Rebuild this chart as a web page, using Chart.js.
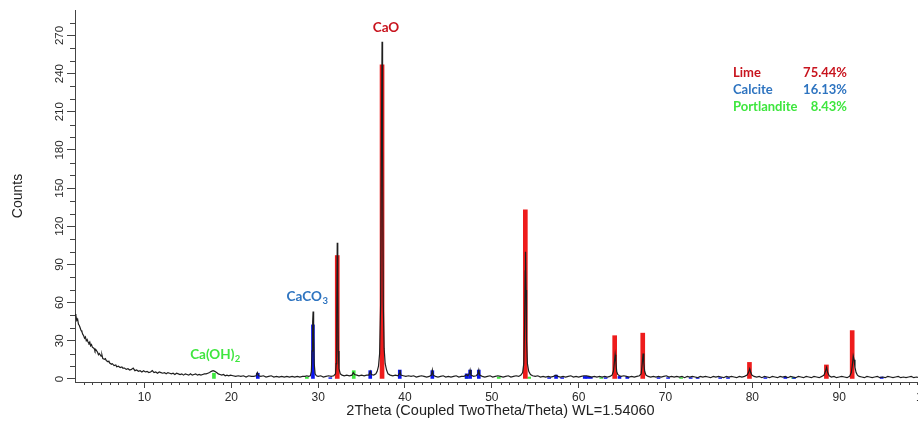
<!DOCTYPE html>
<html>
<head>
<meta charset="utf-8">
<script src="https://cdn.jsdelivr.net/npm/chart.js@4.4.1/dist/chart.umd.min.js"></script>
<style>
  html, body { margin: 0; padding: 0; background: #ffffff; overflow: hidden; width: 918px; height: 427px; }
  #wrap { position: absolute; left: 0; top: 0; width: 950px; height: 427px; }
</style>
</head>
<body>
<div id="wrap"><canvas id="c" width="950" height="427"></canvas></div>
<script>
// ---- Measured pattern: [2theta, counts] ----
const pattern = [
[2.0,51],[2.1,50],[2.2,46],[2.3,47],[2.4,43],[2.5,42],[2.6,40],[2.7,38],[2.8,37],[2.9,35],[3.0,34],[3.1,32],[3.2,33],[3.3,30],[3.4,31],[3.5,29],[3.6,28],[3.7,29],[3.8,26],[3.9,27],[4.0,25],[4.2,24],[4.3,22],[4.4,23],[4.6,21],[4.7,19],[4.8,20],[5.0,18],[5.1,19],[5.2,16],[5.4,15.5],[5.5,16],[5.6,14.5],[5.8,13.5],[5.9,14],[6.0,12.5],[6.2,11.5],[6.3,12],[6.5,10.5],[6.7,11],[6.8,9.5],[7.0,10],[7.2,9],[7.4,9.5],[7.5,8.5],[7.7,8.5],[7.9,7.5],[8.1,8],[8.3,7],[8.5,7.5],[8.7,8.5],[8.9,6.5],[9.1,7],[9.3,6],[9.5,6.5],[9.7,5.5],[9.9,6.5],
[10.1,5.5],[10.3,6],[10.5,5],[10.7,5.5],[10.9,6.5],[11.1,5],[11.3,5.5],[11.5,4.5],[11.7,5.5],[11.9,5],[12.1,4.5],[12.3,5],[12.5,4],[12.7,5],[12.9,4.5],[13.1,4],[13.3,4.5],[13.5,3.5],[13.7,4.5],[13.9,4],[14.1,3.5],[14.3,4],[14.5,3],[14.7,4],[14.9,3.5],[15.1,3],[15.3,4],[15.5,3],[15.7,3.5],[15.9,4],[16.1,3],[16.3,3.5],[16.5,3],[16.7,3.5],[16.9,4],[17.1,4],[17.3,4.5],[17.5,5],[17.7,6],[17.9,6.5],[18.1,6],[18.3,5],[18.5,4],[18.7,3.5],[18.9,3],[19.1,3.5],[19.3,2.5],[19.5,3],[19.7,2.5],[19.9,3],
[20.2,2.5],[20.5,2],[20.8,2.5],[21.1,2],[21.4,2.5],[21.7,1.5],[22.0,2.5],[22.3,2],[22.6,2],[22.85,2.5],[23.0,5],[23.15,2.5],[23.4,2],[23.7,2.5],[24.0,1.5],[24.3,2],[24.6,2.5],[24.9,1.5],[25.2,2],[25.5,1.5],[25.8,2],[26.1,1.5],[26.4,2],[26.7,1.5],[27.0,2],[27.3,1.5],[27.6,2],[27.9,1.5],[28.2,2],[28.5,2],[28.7,2.5],[28.9,2],[29.1,2.5],[29.22,6],[29.3,22],[29.37,45],[29.42,53],[29.48,35],[29.55,12],[29.65,4],[29.8,2.5],
[30.0,2],[30.3,2.5],[30.6,1.5],[30.9,2],[31.2,2.5],[31.5,2],[31.8,2.5],[32.0,4],[32.08,12],[32.14,50],[32.2,107],[32.26,70],[32.32,22],[32.4,8],[32.55,4],[32.75,3],[33.0,2.5],[33.3,3],[33.6,2.5],[33.9,3],[34.05,5],[34.2,3.5],[34.45,3],[34.7,2.5],[35.0,3],[35.3,2.5],[35.6,3],[35.85,3],[36.0,6],[36.12,3.5],[36.4,3],[36.65,4],[36.8,6],[36.95,10],[37.08,20],[37.2,60],[37.3,200],[37.36,265],[37.42,180],[37.5,60],[37.6,24],[37.72,12],[37.88,7],[38.05,4],[38.3,3],[38.6,2.5],[38.9,3],[39.2,2.5],[39.32,4],[39.42,7],[39.52,3],[39.8,2.5],
[40.1,2],[40.4,2.5],[40.7,2],[41.0,2.5],[41.3,1.5],[41.6,2],[41.9,2.5],[42.2,2],[42.5,1.5],[42.8,2],[43.05,3],[43.15,7],[43.25,3],[43.5,2],[43.8,1.5],[44.1,2],[44.4,2.5],[44.7,1.5],[45.0,2],[45.3,1.5],[45.6,2],[45.9,2.5],[46.2,1.5],[46.5,2],[46.8,2],[47.1,3.5],[47.25,2.5],[47.4,4],[47.5,7],[47.6,3],[47.9,2],[48.2,2.5],[48.4,4],[48.5,7],[48.6,3],[48.9,2],[49.2,1.5],[49.5,2],[49.8,2.5],
[50.1,1.5],[50.4,2],[50.7,2.5],[51.0,2],[51.3,1.5],[51.6,2],[51.9,2.5],[52.2,1.5],[52.5,2],[52.8,2.5],[53.1,2],[53.35,3],[53.55,5],[53.68,12],[53.77,40],[53.84,85],[53.88,100],[53.94,70],[54.0,30],[54.1,12],[54.25,6],[54.45,3.5],[54.7,2.5],[55.0,2],[55.3,2.5],[55.6,1.5],[55.9,2],[56.2,1.5],[56.5,2],[56.8,1.5],[57.1,2],[57.4,3],[57.6,2],[57.9,1.5],[58.2,2],[58.5,1.5],[58.8,2],[59.1,2.5],[59.4,1.5],[59.7,2],
[60.0,1.5],[60.3,2],[60.6,2.5],[60.9,2.5],[61.2,2],[61.5,1.5],[61.8,2],[62.1,1.5],[62.4,2],[62.7,1.5],[63.0,2],[63.3,1.5],[63.6,2],[63.85,3],[64.0,6],[64.1,12],[64.2,19],[64.28,14],[64.38,6],[64.5,3.5],[64.7,2.5],[64.9,2],[65.2,2.5],[65.5,2],[65.8,1.5],[66.1,2],[66.4,1.5],[66.7,2],[67.0,2.5],[67.2,4],[67.32,12],[67.42,20],[67.5,13],[67.6,6],[67.75,3],[68.0,2],[68.3,1.5],[68.6,2],[68.9,1.5],[69.2,2],[69.5,1.5],[69.8,2],
[70.1,2.5],[70.4,1.5],[70.7,2],[71.0,1.5],[71.3,2],[71.6,1.5],[71.9,2],[72.2,1],[72.5,2],[72.8,1.5],[73.1,2],[73.4,1.5],[73.7,1],[74.0,2],[74.3,1.5],[74.6,2],[74.9,1.5],[75.2,1],[75.5,2],[75.8,1.5],[76.1,2],[76.4,1.5],[76.7,1],[77.0,2],[77.3,1.5],[77.6,2],[77.9,1.5],[78.2,1],[78.5,2],[78.8,1.5],[79.1,2],[79.4,3],[79.55,5],[79.7,8],[79.82,5],[79.95,3],
[80.2,2],[80.5,1.5],[80.8,2],[81.1,1],[81.4,2],[81.7,1.5],[82.0,1],[82.3,2],[82.6,1.5],[82.9,1],[83.2,2],[83.5,1.5],[83.8,2],[84.1,1],[84.4,2],[84.7,1.5],[85.0,1],[85.3,2],[85.6,1.5],[85.9,1],[86.2,2],[86.5,1.5],[86.8,1],[87.1,2],[87.4,1.5],[87.7,1],[88.0,2],[88.25,3],[88.42,6],[88.55,9],[88.68,5],[88.85,2.5],[89.1,1.5],[89.4,2],[89.7,1],
[90.0,1.5],[90.3,2],[90.6,1.5],[90.9,1],[91.2,2],[91.4,5],[91.52,11],[91.62,18],[91.72,15],[91.82,9],[91.95,5],[92.1,3],[92.3,2],[92.6,1.5],[92.9,1],[93.2,2],[93.5,1.5],[93.8,1],[94.1,1.5],[94.4,2],[94.7,1],[95.0,1.5],[95.3,1],[95.6,2],[95.9,1.5],[96.2,1],[96.5,1.5],[96.8,2],[97.1,1],[97.4,1.5],[97.7,1],[98.0,1.5],[98.3,2],[98.6,1],[98.9,1.5],[99.2,1],[99.5,1.5],[99.8,1]
];

// ---- Reference phase peaks ----
const limePos      = [32.2, 37.36, 53.86, 64.15, 67.38, 79.67, 88.53, 91.5];
const limeHeight   = [97, 247, 133, 34, 36, 13, 11, 38];
const calcitePos   = [23.05, 29.4, 31.4, 36.0, 39.4, 43.15, 47.1, 47.5, 48.5, 56.6, 57.4, 58.1, 60.7, 61.0, 61.4, 63.1, 64.7, 65.6, 69.2, 70.3, 72.9, 73.7, 76.3, 77.2, 81.5, 83.8, 84.8, 94.9];
const calciteHeight= [4.5, 42.5, 1, 6.5, 7, 6.5, 4, 7, 7, 1, 3, 1, 2, 2, 1.5, 1, 2, 1.5, 1, 1, 1, 1, 1, 1, 1, 1.5, 1, 1.5];
const portPos      = [18.0, 28.7, 34.1, 47.1, 50.8, 54.3, 62.6, 71.8, 84.7];
const portHeight   = [4.5, 1.5, 6.5, 2.5, 1.5, 1.5, 1, 1, 1];

// ---- Axis ticks and texts ----
const xTickValues = [10, 20, 30, 40, 50, 60, 70, 80, 90, 100];
const yTickValues = [0, 30, 60, 90, 120, 150, 180, 210, 240, 270];
const phaseNames  = ['Lime', 'Calcite', 'Portlandite'];
const phasePct    = ['75.44%', '16.13%', '8.43%'];
const xTitle = '2Theta (Coupled TwoTheta/Theta) WL=1.54060';
const yTitle = 'Counts';

const RED = '#ee1c1c', BLUE = '#0a14ee', GREEN = '#3ee63e';
const TXT_RED = '#c8141e', TXT_BLUE = '#2e74c0', TXT_GREEN = '#3ee63e';
const AXFONT = "'Liberation Sans', Arial, sans-serif";
const LBLFONT = "Lato, 'Open Sans', sans-serif";

function toXY(pos, h) { return pos.map((p, i) => ({ x: p, y: h[i] })); }

const overlay = {
  id: 'overlay',
  afterDraw(chart) {
    const ctx = chart.ctx;
    const xs = chart.scales.x, ys = chart.scales.y;
    const left = chart.chartArea.left, bottom = chart.chartArea.bottom;
    ctx.save();
    // minor ticks
    ctx.strokeStyle = '#444';
    ctx.lineWidth = 1;
    ctx.beginPath();
    for (let v = 3; v < 100; v++) {
      if (v % 10 === 0) continue;
      const px = Math.round(xs.getPixelForValue(v)) + 0.5;
      ctx.moveTo(px, bottom); ctx.lineTo(px, bottom + 3);
    }
    for (let v = 10; v < 290; v += 10) {
      if (v % 30 === 0) continue;
      const py = Math.round(ys.getPixelForValue(v)) + 0.5;
      ctx.moveTo(left - 5, py); ctx.lineTo(left, py);
    }
    ctx.stroke();
    // rotated y tick labels
    ctx.fillStyle = '#2a2a2a';
    ctx.font = "11.5px " + AXFONT;
    ctx.textAlign = 'center';
    ctx.textBaseline = 'middle';
    yTickValues.forEach(v => {
      const py = ys.getPixelForValue(v);
      ctx.save();
      ctx.translate(60, py);
      ctx.rotate(-Math.PI / 2);
      ctx.fillText(String(v), 0, 0);
      ctx.restore();
    });
    // peak labels
    ctx.font = "bold 13.5px " + LBLFONT;
    ctx.textBaseline = 'middle';
    ctx.textAlign = 'center';
    ctx.fillStyle = TXT_RED;
    ctx.fillText('CaO', 386, 28);
    function withSub(main, sub, cx, cy, color) {
      ctx.fillStyle = color;
      ctx.font = "bold 13.5px " + LBLFONT;
      const w1 = ctx.measureText(main).width;
      ctx.font = "bold 9.5px " + LBLFONT;
      const w2 = ctx.measureText(sub).width;
      const x0 = cx - (w1 + w2) / 2;
      ctx.textAlign = 'left';
      ctx.font = "bold 13.5px " + LBLFONT;
      ctx.fillText(main, x0, cy);
      ctx.font = "bold 9.5px " + LBLFONT;
      ctx.fillText(sub, x0 + w1 + 0.5, cy + 4);
    }
    withSub('CaCO', '3', 307, 297, TXT_BLUE);
    withSub('Ca(OH)', '2', 215, 355, TXT_GREEN);
    // phase table
    const colors = [TXT_RED, TXT_BLUE, TXT_GREEN];
    const rowsY = [73, 90, 107];
    ctx.font = "bold 13px " + LBLFONT;
    phaseNames.forEach((n, i) => {
      ctx.fillStyle = colors[i];
      ctx.textAlign = 'left';
      ctx.fillText(n, 733, rowsY[i]);
      ctx.textAlign = 'right';
      ctx.fillText(phasePct[i], 847, rowsY[i]);
    });
    ctx.restore();
  }
};

new Chart(document.getElementById('c'), {
  type: 'bar',
  data: {
    datasets: [
      { type: 'line', data: pattern.map(p => ({ x: p[0], y: p[1] })), borderColor: '#1e1e1e', borderWidth: 1.2, pointRadius: 0, tension: 0, fill: false, order: 0 },
      { type: 'bar', data: toXY(limePos, limeHeight), backgroundColor: RED, barThickness: 4, grouped: false, order: 1 },
      { type: 'bar', data: toXY(calcitePos, calciteHeight), backgroundColor: BLUE, barThickness: 3, grouped: false, order: 2 },
      { type: 'bar', data: toXY(portPos, portHeight), backgroundColor: GREEN, barThickness: 3, grouped: false, order: 3 }
    ]
  },
  options: {
    responsive: false,
    animation: false,
    events: [],
    devicePixelRatio: 1,
    layout: { padding: { left: 0, right: 24, top: 10, bottom: 0 } },
    plugins: { legend: { display: false }, tooltip: { enabled: false } },
    scales: {
      x: {
        type: 'linear', min: 2, max: 100, offset: false,
        afterBuildTicks: s => { s.ticks = xTickValues.map(v => ({ value: v })); },
        afterFit: s => { s.height = 45; },
        ticks: { font: { family: AXFONT, size: 12 }, color: '#2a2a2a', padding: 2, maxRotation: 0, minRotation: 0, autoSkip: false },
        grid: { drawOnChartArea: false, drawTicks: true, tickLength: 6, color: '#444', offset: false },
        border: { display: true, color: '#444', width: 1 },
        title: { display: true, text: xTitle, font: { family: AXFONT, size: 14.5 }, color: '#222', padding: { top: 0, bottom: 7 } }
      },
      y: {
        type: 'linear', min: -2.4, max: 290,
        afterBuildTicks: s => { s.ticks = yTickValues.map(v => ({ value: v })); },
        afterFit: s => { s.width = 75; },
        ticks: { display: false },
        grid: { drawOnChartArea: false, drawTicks: true, tickLength: 8, color: '#444' },
        border: { display: true, color: '#444', width: 1 },
        title: { display: true, text: yTitle, font: { family: AXFONT, size: 14 }, color: '#222', padding: { top: 10, bottom: 0 } }
      }
    }
  },
  plugins: [overlay]
});
</script>
</body>
</html>
